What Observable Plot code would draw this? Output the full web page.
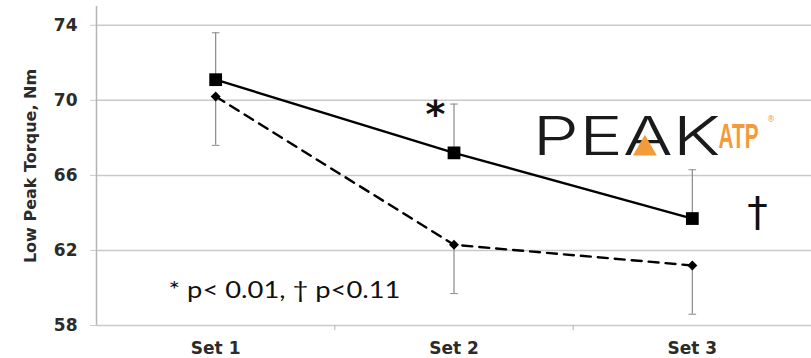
<!DOCTYPE html>
<html><head><meta charset="utf-8">
<script src="https://cdn.jsdelivr.net/npm/d3@7"></script>
<script src="https://cdn.jsdelivr.net/npm/@observablehq/plot@0.6"></script>
<style>body{margin:0;background:#fff} svg{display:block}</style>
</head><body><div id="chart"></div>
<script>
const sets = ["Set 1", "Set 2", "Set 3"];
const setIndex = [1, 2, 3];
const solidMean = [71.1, 67.2, 63.7];
const solidErr = [2.5, 2.6, 2.6];
const dashedMean = [70.2, 62.3, 61.2];
const dashedErr = [2.6, 2.6, 2.6];
const yTicks = [58, 62, 66, 70, 74];
const yLabel = "Low Peak Torque, Nm";
const noteText = "* p< 0.01, \u2020 p<0.11";

const solid = setIndex.map((x, i) => ({x, mean: solidMean[i], end: solidMean[i] + solidErr[i]}));
const dashed = setIndex.map((x, i) => ({x, mean: dashedMean[i], end: dashedMean[i] - dashedErr[i]}));
const bars = solid.concat(dashed);
const capW = 0.016;
const bold = "DejaVu Sans, Verdana, sans-serif";

const plot = Plot.plot({
  width: 811,
  height: 358,
  marginLeft: 96,
  marginRight: 0,
  marginTop: 6,
  marginBottom: 33,
  x: {type: "linear", domain: [0.5, 3.5]},
  y: {domain: [58, 75]},
  style: {fontFamily: bold, background: "#fff"},
  marks: [
    Plot.gridY(yTicks, {stroke: "#c9c9c9", strokeOpacity: 1, strokeWidth: 1.5}),
    Plot.axisY(yTicks, {tickSize: 6, tickPadding: 13, stroke: "#c9c9c9", fill: "#2b2b2b", fontSize: 17, fontWeight: "bold", fontFamily: bold, label: null}),
    Plot.ruleX([0.5], {y1: 58, y2: 75, stroke: "#b5b5b5", strokeWidth: 1.5}),
    Plot.axisX([1.5, 2.5], {tickSize: 5, tickFormat: () => "", stroke: "#b5b5b5", label: null}),
    Plot.axisX(setIndex, {tickSize: 0, tickPadding: 16, tickFormat: d => sets[d - 1], fill: "#2b2b2b", fontSize: 17, fontWeight: "bold", fontFamily: bold, label: null}),
    Plot.text([yLabel], {frameAnchor: "left", textAnchor: "middle", rotate: -90, dx: -66, fontSize: 16, fontWeight: "bold", fontFamily: bold, fill: "#2b2b2b"}),
    Plot.ruleX(bars, {x: "x", y1: "mean", y2: "end", stroke: "#8a8a8a", strokeWidth: 1.2}),
    Plot.link(bars, {x1: d => d.x - capW, x2: d => d.x + capW, y1: "end", y2: "end", stroke: "#8a8a8a", strokeWidth: 1}),
    Plot.line(solid, {x: "x", y: "mean", stroke: "#000", strokeWidth: 2.4}),
    Plot.line(dashed, {x: "x", y: "mean", stroke: "#000", strokeWidth: 2.4, strokeDasharray: "10,7"}),
    Plot.dot(solid, {x: "x", y: "mean", symbol: "square", r: 7.2, fill: "#000"}),
    Plot.dot(dashed, {x: "x", y: "mean", symbol: "diamond2", r: 4.5, fill: "#000"}),
    Plot.text(["*"], {x: 1.922, y: 69.24, fontSize: 38, fill: "#111", fontFamily: bold, fontWeight: "bold"}),
    Plot.text(["\u2020"], {x: 3.273, y: 63.99, fontSize: 41, fill: "#111", fontFamily: bold}),
    Plot.text([noteText], {x: 0.802, y: 59.84, textAnchor: "start", fontSize: 23, fill: "#111", fontFamily: "Lato"}),
    Plot.text(["PEAK"], {x: 2.724, y: 67.99, fontSize: 53, fill: "#1a1a1a", fontFamily: "Inter", fontWeight: 300}),
    Plot.dot([{x: 2.801, y: 67.43}], {x: "x", y: "y", symbol: "triangle", r: 8.9, fill: "#F39B3A"}),
    Plot.text(["ATP"], {x: 3.11, y: 68.07, textAnchor: "start", fontSize: 36, fill: "#F39B3A", fontFamily: "Liberation Sans Narrow, Liberation Sans", fontWeight: "bold"}),
    Plot.text(["\u00AE"], {x: 3.33, y: 69.0, fontSize: 8, fill: "#F39B3A"})
  ]
});
document.getElementById("chart").appendChild(plot);
d3.select(plot).selectAll("text").each(function() {
  const t = this.textContent;
  if (t === "PEAK") { this.setAttribute("textLength", 188); this.setAttribute("lengthAdjust", "spacingAndGlyphs"); }
  if (t === noteText) { this.setAttribute("textLength", 232); this.setAttribute("lengthAdjust", "spacingAndGlyphs"); }
  if (t === "ATP") {
    const len = this.getComputedTextLength();
    const tr = this.getAttribute("transform") || "";
    this.setAttribute("transform", tr + ` scale(${40 / len},1)`);
  }
});
</script>
</body></html>
